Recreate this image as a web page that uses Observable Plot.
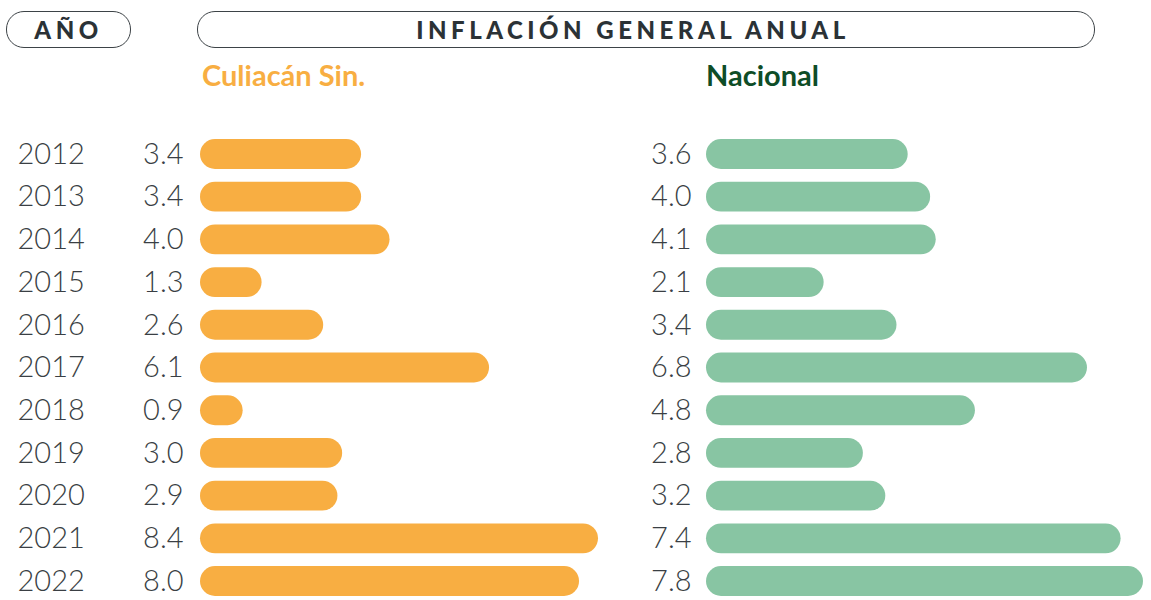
<!DOCTYPE html>
<html><head><meta charset="utf-8">
<script src="https://cdn.jsdelivr.net/npm/d3@7"></script>
<script src="https://cdn.jsdelivr.net/npm/@observablehq/plot@0.6"></script>
<style>
html,body{margin:0;padding:0;background:#fff;}
#page{position:relative;width:1151px;height:600px;overflow:hidden;font-family:Lato,"Open Sans",sans-serif;}
#header{position:relative;height:100px;}
.pill{position:absolute;box-sizing:border-box;border:1.5px solid #3d4347;border-radius:18px;height:37px;top:11px;display:flex;align-items:center;justify-content:center;font-weight:900;color:#2b3236;font-size:24px;letter-spacing:4.5px;}
.coltitle{position:absolute;top:58px;font-weight:700;font-size:29px;line-height:34px;}
#plots{display:flex;}
</style></head>
<body><div id="page">
<div id="header">
  <div class="pill" style="left:6px;width:125px;">AÑO</div>
  <div class="pill" style="left:197px;width:898px;padding-right:26px;">INFLACIÓN GENERAL ANUAL</div>
  <div class="coltitle" style="left:202px;color:#F8AE42;">Culiacán Sin.</div>
  <div class="coltitle" style="left:706px;color:#0E4D27;">Nacional</div>
</div>
<div id="plots"></div>
</div>
<script>
const years = ["2012","2013","2014","2015","2016","2017","2018","2019","2020","2021","2022"];
const culiacan = [3.4, 3.4, 4.0, 1.3, 2.6, 6.1, 0.9, 3.0, 2.9, 8.4, 8.0];
const nacional = [3.6, 4.0, 4.1, 2.1, 3.4, 6.8, 4.8, 2.8, 3.2, 7.4, 7.8];

const orange = "#F8AE42";
const green = "#88C5A3";
const textColor = "#3a3f44";

const dataC = years.map((y, i) => ({year: y, value: culiacan[i]}));
const dataN = years.map((y, i) => ({year: y, value: nacional[i]}));

const yScale = {domain: years, paddingInner: 0.3, paddingOuter: 0, round: false, axis: null};

const left = Plot.plot({
  width: 620, height: 500,
  marginLeft: 200, marginRight: 22, marginTop: 39, marginBottom: 4,
  x: {domain: [0, 8.4], axis: null},
  y: yScale,
  style: {fontFamily: "Lato, 'Open Sans', sans-serif", background: "transparent"},
  marks: [
    Plot.barX(dataC, {x: "value", y: "year", fill: orange, rx: 15}),
    Plot.text(dataC, {x: () => 0, y: "year", text: d => d.value.toFixed(1), textAnchor: "end", dx: -17, fontSize: 29, fontWeight: 300, fill: textColor}),
    Plot.text(dataC, {x: () => 0, y: "year", text: "year", textAnchor: "start", dx: -183, fontSize: 29, fontWeight: 300, fill: textColor})
  ]
});

const right = Plot.plot({
  width: 531, height: 500,
  marginLeft: 86, marginRight: 8, marginTop: 39, marginBottom: 4,
  x: {domain: [0, 7.8], axis: null},
  y: yScale,
  style: {fontFamily: "Lato, 'Open Sans', sans-serif", background: "transparent"},
  marks: [
    Plot.barX(dataN, {x: "value", y: "year", fill: green, rx: 15}),
    Plot.text(dataN, {x: () => 0, y: "year", text: d => d.value.toFixed(1), textAnchor: "end", dx: -15, fontSize: 29, fontWeight: 300, fill: textColor})
  ]
});

document.getElementById("plots").append(left, right);
</script>
</body></html>
